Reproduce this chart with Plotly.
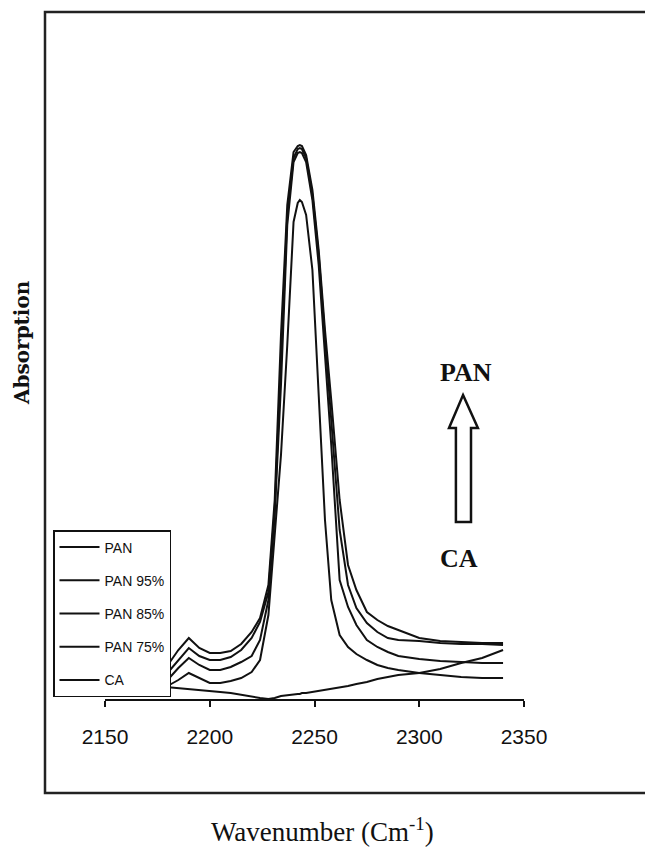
import plotly.graph_objects as go

# Wavenumber sample points (cm-1)
wavenumber = [2179, 2185, 2190, 2195, 2200, 2205, 2210, 2215, 2220, 2224, 2228, 2231,
              2234, 2237, 2240, 2242, 2243, 2244, 2246, 2249, 2252, 2255, 2258, 2262,
              2266, 2270, 2275, 2280, 2285, 2290, 2300, 2310, 2320, 2330, 2340]

# Absorption (arbitrary units)
pan = [0.31, 0.49, 0.61, 0.51, 0.46, 0.46, 0.48, 0.55, 0.67, 0.81, 1.14, 1.99,
       3.64, 4.94, 5.47, 5.53, 5.54, 5.53, 5.44, 5.09, 4.49, 3.69, 2.99, 1.99,
       1.34, 1.09, 0.87, 0.79, 0.73, 0.69, 0.61, 0.58, 0.57, 0.56, 0.56]
pan95 = [0.24, 0.39, 0.51, 0.43, 0.39, 0.39, 0.42, 0.49, 0.61, 0.77, 1.07, 1.89,
         3.29, 4.84, 5.41, 5.50, 5.51, 5.50, 5.41, 5.04, 4.44, 3.59, 2.79, 1.69,
         1.14, 0.91, 0.76, 0.67, 0.61, 0.59, 0.58, 0.56, 0.55, 0.55, 0.54]
pan85 = [0.17, 0.31, 0.41, 0.34, 0.29, 0.29, 0.32, 0.37, 0.43, 0.59, 0.99, 1.84,
         3.14, 4.74, 5.37, 5.46, 5.47, 5.46, 5.37, 4.99, 4.34, 3.44, 2.54, 1.19,
         0.92, 0.74, 0.59, 0.52, 0.47, 0.43, 0.40, 0.38, 0.37, 0.36, 0.36]
pan75 = [0.12, 0.19, 0.26, 0.21, 0.16, 0.16, 0.18, 0.21, 0.27, 0.39, 0.84, 1.64,
         2.44, 3.54, 4.77, 4.96, 4.99, 4.97, 4.84, 4.29, 3.09, 1.79, 0.99, 0.64,
         0.52, 0.45, 0.39, 0.34, 0.31, 0.29, 0.26, 0.24, 0.22, 0.21, 0.21]
ca = [0.12, 0.11, 0.10, 0.09, 0.08, 0.07, 0.06, 0.04, 0.02, 0.01, 0.00, 0.01,
      0.03, 0.04, 0.05, 0.05, 0.05, 0.06, 0.06, 0.07, 0.08, 0.09, 0.10, 0.12,
      0.13, 0.15, 0.17, 0.20, 0.22, 0.24, 0.26, 0.30, 0.36, 0.41, 0.49]

series_names = ["PAN", "PAN 95%", "PAN 85%", "PAN 75%", "CA"]
series_values = [pan, pan95, pan85, pan75, ca]

x_ticks = [2150, 2200, 2250, 2300, 2350]

fig = go.Figure()
for i, (name, vals) in enumerate(zip(series_names, series_values)):
    fig.add_trace(go.Scatter(
        x=wavenumber, y=vals, name=name, mode="lines",
        line=dict(color="#111111", width=2),
        legendgroup=f"g{i}",
    ))

L, R, T, B = 105, 121, 139, 148
W, H = 645, 847
pw, ph = W - L - R, H - T - B


def px(xp):
    return (xp - L) / pw


def py(yp):
    return (H - B - yp) / ph


serif = "Liberation Serif, Times New Roman, serif"
narrow = "Liberation Sans Narrow, Arial Narrow, Liberation Sans, Arial, sans-serif"

fig.update_layout(
    width=W, height=H, autosize=False,
    margin=dict(l=L, r=R, t=T, b=B),
    paper_bgcolor="white", plot_bgcolor="white",
    showlegend=True,
    legend=dict(
        x=px(53), y=py(530), xanchor="left", yanchor="top",
        bgcolor="white", bordercolor="#111111", borderwidth=1.5,
        font=dict(family=narrow, size=14, color="#111111"),
        tracegroupgap=12, traceorder="grouped", itemwidth=40,
    ),
    xaxis=dict(
        range=[2150, 2350], tickvals=x_ticks, ticktext=[str(t) for t in x_ticks],
        ticks="outside", ticklen=6, tickwidth=2, tickcolor="#111111",
        showline=True, linewidth=2, linecolor="#111111",
        showgrid=False, zeroline=False,
        tickfont=dict(family=narrow, size=21, color="#111111"),
        ticklabelstandoff=12,
    ),
    yaxis=dict(
        range=[0, 5.6], showgrid=False, zeroline=False, showline=False,
        showticklabels=False, ticks="",
    ),
    shapes=[
        # outer frame (right edge lies outside the picture)
        dict(type="rect", xref="paper", yref="paper",
             x0=px(45), x1=px(660), y0=py(793), y1=py(12),
             line=dict(color="#222222", width=2.5), fillcolor="rgba(0,0,0,0)",
             layer="below"),
        # hollow block arrow from CA to PAN
        dict(type="path", xref="x", yref="y",
             path="M 2320.9 3.04 L 2328.0 2.71 L 2324.7 2.71 L 2324.7 1.77 "
                  "L 2317.5 1.77 L 2317.5 2.71 L 2314.2 2.71 Z",
             line=dict(color="#111111", width=2.5), fillcolor="white"),
    ],
    annotations=[
        dict(text="Wavenumber (Cm<sup>-1</sup>)", xref="paper", yref="paper",
             x=px(322), y=py(830), xanchor="center", yanchor="middle",
             showarrow=False, font=dict(family=serif, size=27, color="#111111")),
        dict(text="<b>Absorption</b>", xref="paper", yref="paper",
             x=px(22), y=py(343), xanchor="center", yanchor="middle", textangle=-90,
             showarrow=False, font=dict(family="DejaVu Serif, serif", size=20, color="#111111")),
        dict(text="<b>PAN</b>", xref="x", yref="y", x=2322.3, y=3.27,
             xanchor="center", yanchor="middle", showarrow=False,
             font=dict(family=serif, size=26, color="#111111")),
        dict(text="<b>CA</b>", xref="x", yref="y", x=2319.0, y=1.41,
             xanchor="center", yanchor="middle", showarrow=False,
             font=dict(family=serif, size=26, color="#111111")),
    ],
)

fig.write_html(
    "out.html",
    config={"displayModeBar": False},
    post_script="document.body.style.margin='0';document.body.style.overflow='hidden';",
)
